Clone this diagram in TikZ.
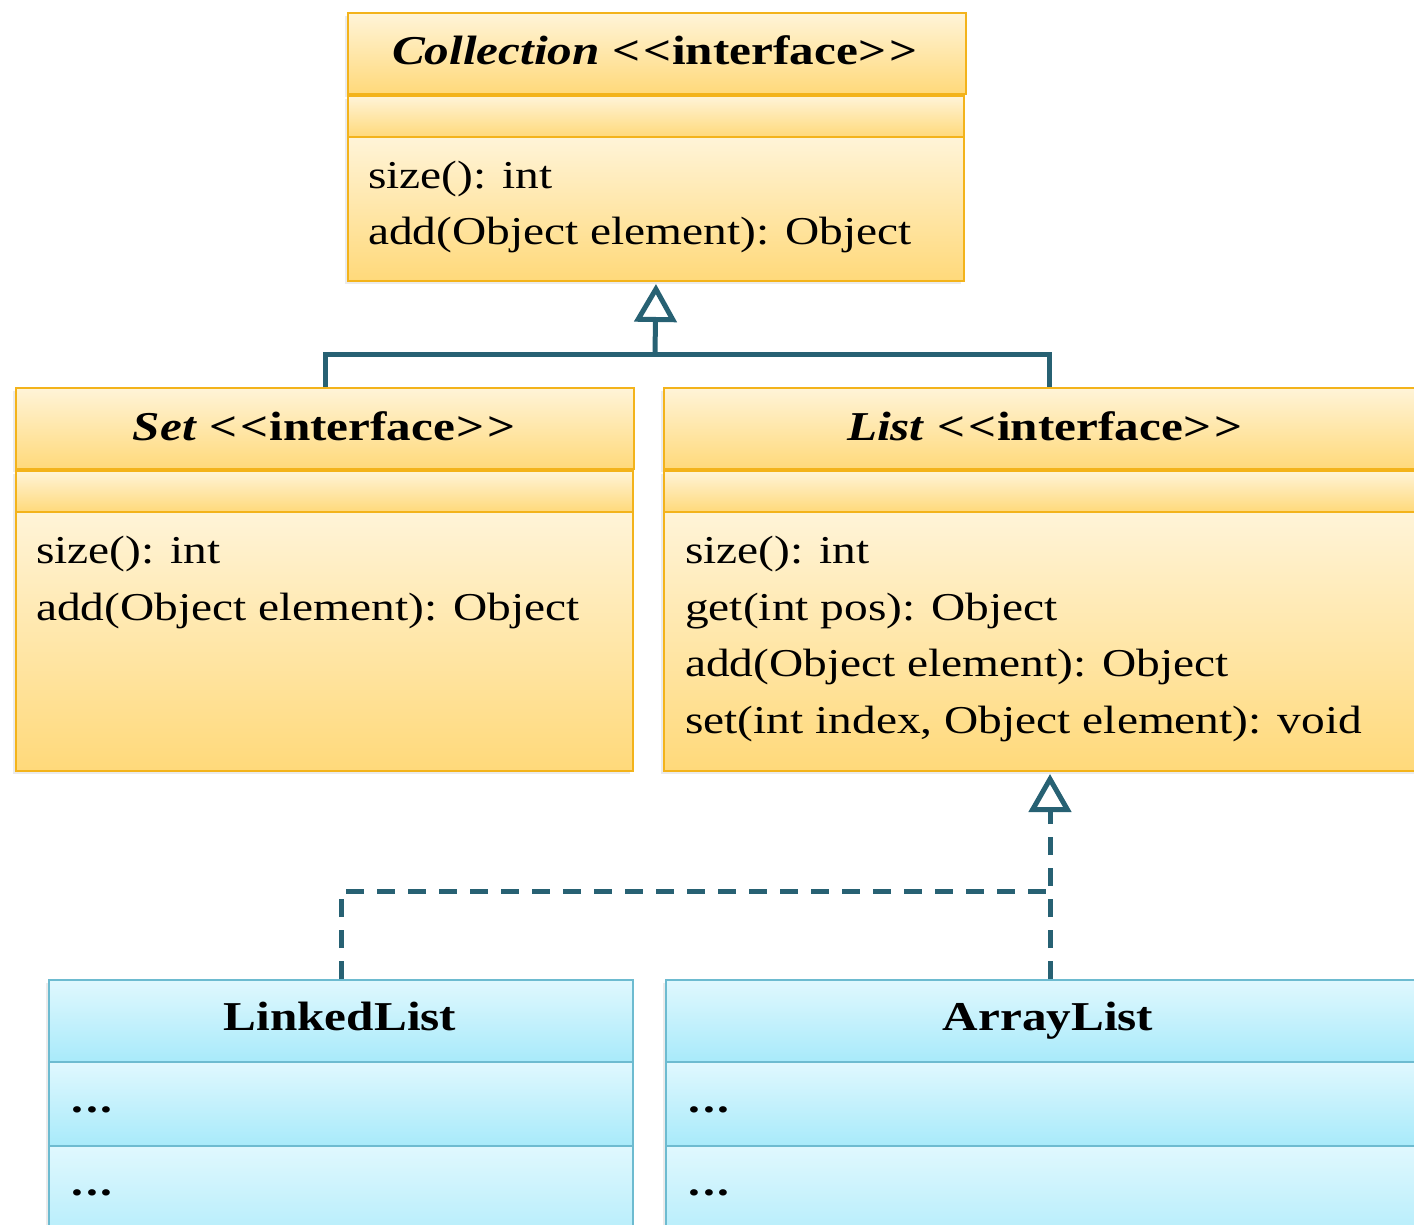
\documentclass[tikz,border=0pt]{standalone}
\usepackage{fontspec}
\setmainfont[FakeStretch=1.2]{Liberation Serif}
\usetikzlibrary{arrows.meta,shadows}

\definecolor{ifaceTop}{HTML}{FFF4D8}
\definecolor{ifaceBot}{HTML}{FFD97A}
\definecolor{ifaceEdge}{HTML}{F3B31B}
\definecolor{clsTop}{HTML}{E0F8FE}
\definecolor{clsBot}{HTML}{A8EAFA}
\definecolor{clsEdge}{HTML}{6DBBD0}
\definecolor{linkTeal}{HTML}{276173}

\tikzset{
  compart/.style={anchor=north west, inner sep=0pt, line width=2pt,
    drop shadow={shadow xshift=-3pt, shadow yshift=-3pt, opacity=0.16}},
  iface/.style={compart, draw=ifaceEdge, top color=ifaceTop, bottom color=ifaceBot},
  impl/.style={compart, draw=clsEdge, top color=clsTop, bottom color=clsBot},
  head/.style={anchor=base, inner sep=0pt, font=\fontsize{41}{41}\selectfont\bfseries},
  member/.style={anchor=base west, inner sep=0pt, font=\fontsize{39.5}{56}\selectfont},
  gen/.style={draw=linkTeal, line width=5pt},
  realize/.style={gen, dash pattern=on 18pt off 13pt},
  hollow/.style={-{Triangle[open, length=38pt, width=42pt, fill=white]}, shorten >=2pt},
}

% kerns keep the two angle brackets from merging into a guillemet
\newcommand{\stereo}{\textless\kern3pt\textless\kern1pt interface\kern1pt\textgreater\kern3pt\textgreater}
\newcommand{\elided}{\textbf{.\kern3pt.\kern3pt.}}

\begin{document}
\begin{tikzpicture}[x=1pt, y=-1pt]
\useasboundingbox (0,0) rectangle (1414,1225);

% Collection interface
\node[iface, minimum width=618, minimum height=81] (colH) at (347,12) {};
\node[iface, minimum width=616, minimum height=41] (colA) at (347,95) {};
\node[iface, minimum width=616, minimum height=144] (colO) at (347,136) {};
\node[head] (colT) at (655,65) {\textit{Collection} \stereo};
\node[member] (colM1) at (368,189) {size(): int};
\node[member] (colM2) at (368,245) {add(Object element): Object};

% Set interface
\node[iface, minimum width=618, minimum height=81] (setH) at (15,387) {};
\node[iface, minimum width=617, minimum height=41] (setA) at (15,470) {};
\node[iface, minimum width=617, minimum height=259] (setO) at (15,511) {};
\node[head] (setT) at (324,440) {\textit{Set} \stereo};
\node[member] (setM1) at (36,563) {size(): int};
\node[member] (setM2) at (36,620) {add(Object element): Object};

% List interface
\node[iface, minimum width=770, minimum height=81] (listH) at (663,387) {};
\node[iface, minimum width=770, minimum height=41] (listA) at (663,470) {};
\node[iface, minimum width=770, minimum height=259] (listO) at (663,511) {};
\node[head] (listT) at (1045,440) {\textit{List} \stereo};
\node[member] (listM1) at (685,563) {size(): int};
\node[member] (listM2) at (685,620) {get(int pos): Object};
\node[member] (listM3) at (685,676) {add(Object element): Object};
\node[member] (listM4) at (685,733) {set(int index, Object element): void};

% LinkedList class
\node[impl, minimum width=584, minimum height=82] (llH) at (48,979) {};
\node[impl, minimum width=584, minimum height=84] (llA) at (48,1061) {};
\node[impl, minimum width=584, minimum height=120] (llO) at (48,1145) {};
\node[head] (llT) at (340,1030) {LinkedList};
\node[member] (llM1) at (71,1112) {\elided};
\node[member] (llM2) at (71,1195) {\elided};

% ArrayList class
\node[impl, minimum width=768, minimum height=82] (alH) at (665,979) {};
\node[impl, minimum width=768, minimum height=84] (alA) at (665,1061) {};
\node[impl, minimum width=768, minimum height=120] (alO) at (665,1145) {};
\node[head] (alT) at (1048,1030) {ArrayList};
\node[member] (alM1) at (688,1112) {\elided};
\node[member] (alM2) at (688,1195) {\elided};

% generalization: Set, List -> Collection
\coordinate (genJoin) at (655,354);
\draw[gen] (setH.north) |- (listH.north |- genJoin) -- (listH.north);
\draw[gen, hollow] (genJoin) -- (colO.south);

% realization: LinkedList, ArrayList -> List
\coordinate (realJoin) at (1048,891);
\draw[realize] (llH.north) |- (realJoin);
\draw[realize, hollow] (alH.north) -- (alH.north |- listO.south);
\end{tikzpicture}
\end{document}
